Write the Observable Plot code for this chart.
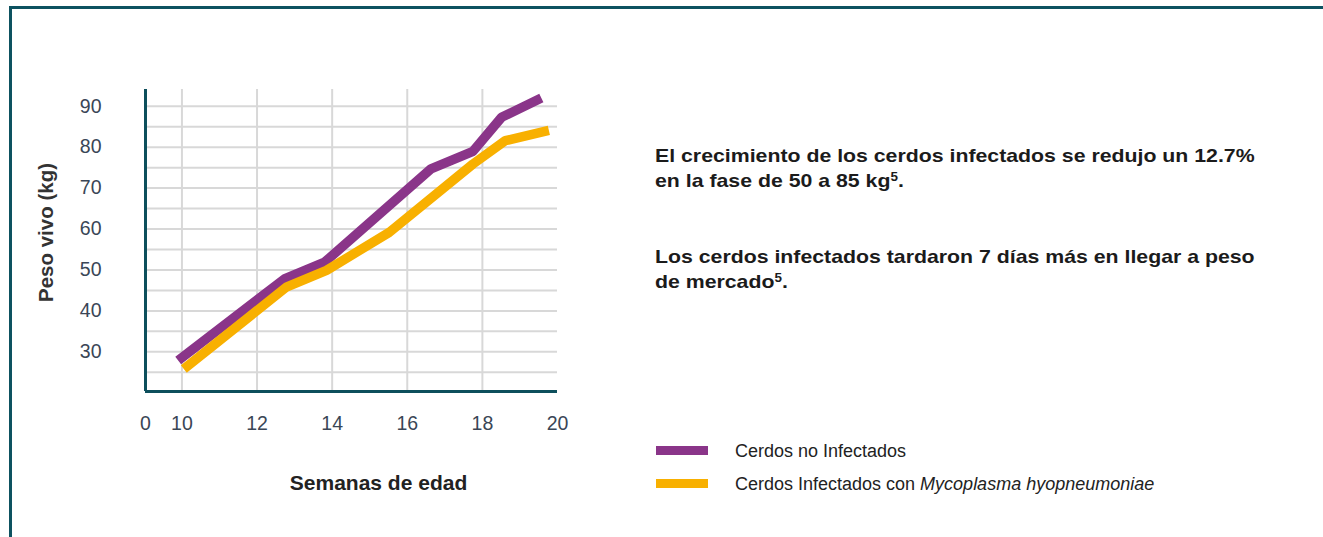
<!DOCTYPE html>
<html>
<head>
<meta charset="utf-8">
<script src="https://cdn.jsdelivr.net/npm/d3@7"></script>
<script src="https://cdn.jsdelivr.net/npm/@observablehq/plot@0.6"></script>
<style>
  body { margin: 0; background: #fff; font-family: "Liberation Sans", Arial, sans-serif; }
  #page { position: relative; width: 1323px; height: 537px; overflow: hidden; background: #fff; }
  #frame { position: absolute; left: 9px; top: 6px; right: -10px; bottom: -10px;
           border-left: 3px solid #0d5260; border-top: 3px solid #0d5260; }
  #chart { position: absolute; left: 0; top: 0; }
  .note { position: absolute; left: 655px; font-weight: bold; font-size: 19px; line-height: 25px;
          color: #1b1b1b; white-space: nowrap; transform: scaleX(1.12); transform-origin: left top; }
  .note sup { font-size: 12px; vertical-align: 6px; line-height: 0; }
  .sw { position: absolute; left: 656px; width: 52px; height: 9px; }
  .leg { position: absolute; left: 735px; font-size: 18px; line-height: 22px; color: #222; white-space: nowrap; }
</style>
</head>
<body>
<div id="page">
  <div id="frame"></div>
  <div id="chart"></div>
  <div class="note" style="top:143px">El crecimiento de los cerdos infectados se redujo un 12.7%<br>en la fase de 50 a 85 kg<sup>5</sup>.</div>
  <div class="note" style="top:244px">Los cerdos infectados tardaron 7 días más en llegar a peso<br>de mercado<sup>5</sup>.</div>
  <div id="legend"></div>
</div>
<script>
// ---- data ----
const seriesNames = ["Cerdos no Infectados", "Cerdos Infectados con Mycoplasma hyopneumoniae"];
const seriesColors = ["#8a3589", "#f8b000"];
const weeksNoInf = [9.9, 12.73, 13.8, 16.63, 17.75, 18.51, 19.57];
const pesoNoInf  = [27.9, 47.8, 51.9, 74.7, 79.0, 87.3, 92.0];
const weeksInf   = [10.05, 12.78, 13.85, 15.52, 17.75, 18.61, 19.77];
const pesoInf    = [25.8, 45.8, 49.9, 59.2, 75.9, 81.6, 84.1];

const xDomain = [9.03, 20];
const yDomain = [20.3, 94.1];
const xTickValues = [9.03, 10, 12, 14, 16, 18, 20];
const xTickLabels = ["0", "10", "12", "14", "16", "18", "20"];
const xGrid = [10, 12, 14, 16, 18];
const yTickValues = [30, 40, 50, 60, 70, 80, 90];
const yGrid = [25, 30, 35, 40, 45, 50, 55, 60, 65, 70, 75, 80, 85, 90];
const xTitle = "Semanas de edad";
const yTitle = "Peso vivo (kg)";

const noInf = weeksNoInf.map((w, i) => ({semana: w, peso: pesoNoInf[i], serie: seriesNames[0]}));
const inf = weeksInf.map((w, i) => ({semana: w, peso: pesoInf[i], serie: seriesNames[1]}));
const xLabelMap = new Map(xTickValues.map((v, i) => [v, xTickLabels[i]]));

const axisColor = "#0d4f5c";
const gridColor = "#d8d8d8";

const plot = Plot.plot({
  width: 600,
  height: 520,
  marginLeft: 145,
  marginRight: 43,
  marginTop: 89,
  marginBottom: 129,
  style: {fontFamily: "'Liberation Sans', Arial, sans-serif", color: "#3a4656", background: "transparent", overflow: "visible"},
  x: {domain: xDomain, label: null},
  y: {domain: yDomain, label: null},
  marks: [
    Plot.ruleY(yGrid, {stroke: gridColor, strokeWidth: 2}),
    Plot.ruleX(xGrid, {stroke: gridColor, strokeWidth: 2}),
    Plot.ruleX([xDomain[0]], {stroke: axisColor, strokeWidth: 3}),
    Plot.ruleY([yDomain[0]], {stroke: axisColor, strokeWidth: 3, x1: xDomain[0], x2: xDomain[1]}),
    Plot.axisY({ticks: yTickValues, tickSize: 0, tickPadding: 44, fontSize: 19.5, label: null}),
    Plot.axisX({ticks: xTickValues, tickFormat: d => xLabelMap.get(d), tickSize: 0, tickPadding: 25, fontSize: 19.5, label: null}),
    Plot.line(noInf, {x: "semana", y: "peso", stroke: seriesColors[0], strokeWidth: 9.5, strokeLinejoin: "miter", strokeLinecap: "butt"}),
    Plot.line(inf, {x: "semana", y: "peso", stroke: seriesColors[1], strokeWidth: 9.5, strokeLinejoin: "miter", strokeLinecap: "butt"}),
    Plot.text([yTitle], {frameAnchor: "left", textAnchor: "middle", dx: -99, dy: -8, rotate: -90, fontSize: 20.5, fontWeight: "bold", fill: "#333"}),
    Plot.text([xTitle], {frameAnchor: "bottom", textAnchor: "middle", dx: 27, dy: 98, fontSize: 21, fontWeight: "bold", fill: "#222"})
  ]
});
document.getElementById("chart").appendChild(plot);

// legend
const legend = document.getElementById("legend");
const swTops = [446, 479];
const textTops = [440, 473];
seriesNames.forEach((name, i) => {
  const sw = document.createElement("div");
  sw.className = "sw";
  sw.style.top = swTops[i] + "px";
  sw.style.background = seriesColors[i];
  legend.appendChild(sw);
  const t = document.createElement("div");
  t.className = "leg";
  t.style.top = textTops[i] + "px";
  if (i === 1) {
    t.innerHTML = "Cerdos Infectados con <i>Mycoplasma hyopneumoniae</i>";
  } else {
    t.textContent = name;
  }
  legend.appendChild(t);
});
</script>
</body>
</html>
